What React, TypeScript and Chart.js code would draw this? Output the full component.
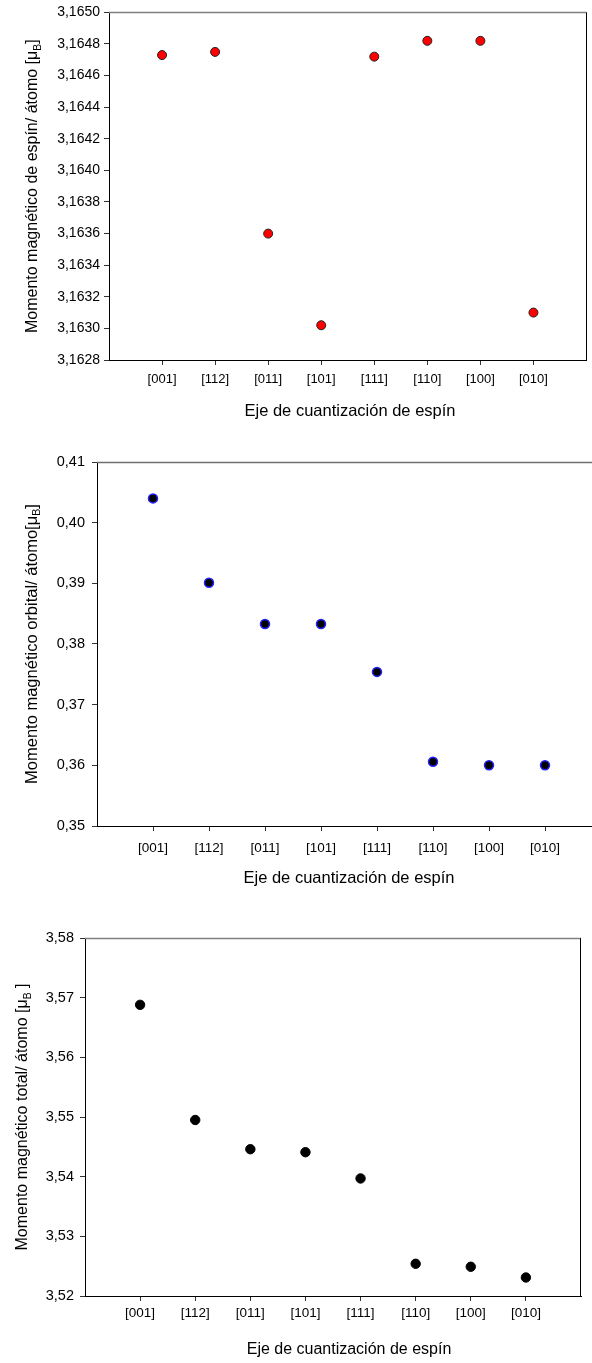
import React, { useEffect, useRef } from "react";
import { Chart, registerables } from "chart.js";

Chart.register(...registerables);

// ---- data ----
const AXES = ["[001]", "[112]", "[011]", "[101]", "[111]", "[110]", "[100]", "[010]"];
const SPIN = [3.16473, 3.16475, 3.1636, 3.16302, 3.16472, 3.16482, 3.16482, 3.1631];
const ORBITAL = [0.404, 0.3901, 0.3833, 0.3833, 0.3754, 0.3606, 0.36, 0.36];
const TOTAL = [3.5688, 3.5495, 3.5446, 3.5441, 3.5397, 3.5254, 3.5249, 3.5231];
const SPIN_TICKS = [3.1628, 3.163, 3.1632, 3.1634, 3.1636, 3.1638, 3.164, 3.1642, 3.1644, 3.1646, 3.1648, 3.165];
const ORBITAL_TICKS = [0.35, 0.36, 0.37, 0.38, 0.39, 0.4, 0.41];
const TOTAL_TICKS = [3.52, 3.53, 3.54, 3.55, 3.56, 3.57, 3.58];
const X_TITLE = "Eje de cuantización de espín";
const SPIN_TITLE = ["Momento magnético de espín/ átomo [μ", "B", "]"];
const ORBITAL_TITLE = ["Momento magnético orbital/ átomo[μ", "B", "]"];
const TOTAL_TITLE = ["Momento magnético total/ átomo [μ", "B", " ]"];

const FONT = '"Liberation Sans", Arial, sans-serif';

const framePlugin = {
  id: "frame",
  afterDraw(chart: any, _args: any, o: any) {
    const { ctx, chartArea: a } = chart;
    ctx.save();
    ctx.strokeStyle = o.topColor;
    ctx.lineWidth = o.topWidth;
    ctx.beginPath();
    ctx.moveTo(a.left, Math.round(a.top) + 0.5);
    ctx.lineTo(a.right, Math.round(a.top) + 0.5);
    ctx.stroke();
    if (o.right) {
      ctx.strokeStyle = "#000";
      ctx.lineWidth = 1;
      ctx.beginPath();
      ctx.moveTo(Math.round(a.right) - 0.5, a.top);
      ctx.lineTo(Math.round(a.right) - 0.5, a.bottom);
      ctx.stroke();
    }
    // x title
    ctx.fillStyle = "#000";
    ctx.font = `${o.xSize}px ${FONT}`;
    ctx.textAlign = "center";
    ctx.textBaseline = "middle";
    ctx.fillText(o.xText, o.xCenter, o.xY);
    // y title with subscript
    const [main, sub, tail] = o.yParts;
    const size = o.ySize;
    const subSize = size * 0.65;
    ctx.font = `${size}px ${FONT}`;
    const w1 = ctx.measureText(main).width;
    const w3 = ctx.measureText(tail).width;
    ctx.font = `${subSize}px ${FONT}`;
    const w2 = ctx.measureText(sub).width;
    const total = w1 + w2 + w3;
    const cy = (a.top + a.bottom) / 2;
    ctx.translate(o.yX, cy);
    ctx.rotate(-Math.PI / 2);
    ctx.textAlign = "left";
    const s = -total / 2;
    ctx.font = `${size}px ${FONT}`;
    ctx.fillText(main, s, 0);
    ctx.font = `${subSize}px ${FONT}`;
    ctx.fillText(sub, s + w1, size * 0.3);
    ctx.font = `${size}px ${FONT}`;
    ctx.fillText(tail, s + w1 + w2, 0);
    ctx.restore();
  },
};

type Spec = {
  width: number;
  height: number;
  left: number;
  top: number;
  right: number;
  bottom: number;
  values: number[];
  yTicks: number[];
  decimals: number;
  yTickSize: number;
  xTickSize: number;
  yPad: number;
  xPad: number;
  point: { r: number; bg: string; border: string; bw: number };
  frame: any;
};

function ScatterPanel({ spec, style }: { spec: Spec; style: React.CSSProperties }) {
  const ref = useRef<HTMLCanvasElement | null>(null);
  useEffect(() => {
    const canvas = ref.current!;
    const yMin = spec.yTicks[0];
    const yMax = spec.yTicks[spec.yTicks.length - 1];
    const chart = new Chart(canvas, {
      type: "scatter",
      data: {
        datasets: [
          {
            data: spec.values.map((v, i) => ({ x: i + 1, y: v })),
            pointRadius: spec.point.r,
            pointBackgroundColor: spec.point.bg,
            pointBorderColor: spec.point.border,
            pointBorderWidth: spec.point.bw,
            showLine: false,
          },
        ],
      },
      options: {
        animation: false,
        responsive: false,
        devicePixelRatio: 1,
        layout: {
          padding: { left: 0, top: spec.top, right: spec.width - spec.right, bottom: 0 },
        },
        plugins: { legend: { display: false }, tooltip: { enabled: false }, frame: spec.frame } as any,
        scales: {
          x: {
            type: "linear",
            min: 0,
            max: AXES.length + 1,
            afterBuildTicks: (s: any) => {
              s.ticks = AXES.map((_, i) => ({ value: i + 1 }));
            },
            afterFit: (s: any) => {
              s.height = spec.height - spec.bottom;
            },
            ticks: {
              autoSkip: false,
              maxRotation: 0,
              color: "#000",
              padding: spec.xPad,
              font: { family: FONT, size: spec.xTickSize },
              callback: (v: any) => AXES[Math.round(Number(v)) - 1] ?? "",
            },
            grid: { drawOnChartArea: false, drawTicks: true, tickLength: 5, color: "#333" },
            border: { display: true, color: "#000", width: 1 },
          },
          y: {
            type: "linear",
            min: yMin,
            max: yMax,
            afterBuildTicks: (s: any) => {
              s.ticks = spec.yTicks.map((v) => ({ value: v }));
            },
            afterFit: (s: any) => {
              s.width = spec.left;
            },
            ticks: {
              color: "#000",
              padding: spec.yPad,
              font: { family: FONT, size: spec.yTickSize },
              callback: (v: any) => Number(v).toFixed(spec.decimals).replace(".", ","),
            },
            grid: { drawOnChartArea: false, drawTicks: true, tickLength: 5, color: "#333" },
            border: { display: true, color: "#000", width: 1 },
          },
        },
      },
      plugins: [framePlugin],
    } as any);
    return () => chart.destroy();
  }, [spec]);
  return (
    <canvas
      ref={ref}
      width={spec.width}
      height={spec.height}
      style={{ position: "absolute", width: spec.width, height: spec.height, ...style }}
    />
  );
}

const SPEC1: Spec = {
  width: 592,
  height: 430,
  left: 109,
  top: 12,
  right: 590,
  bottom: 360,
  values: SPIN,
  yTicks: SPIN_TICKS,
  decimals: 4,
  yTickSize: 14,
  xTickSize: 13,
  yPad: 4,
  xPad: 7,
  point: { r: 4.5, bg: "#ff0000", border: "#222", bw: 1 },
  frame: {
    topColor: "#808080",
    topWidth: 1.5,
    right: true,
    xText: X_TITLE,
    xSize: 16.5,
    xCenter: 350,
    xY: 411,
    yParts: SPIN_TITLE,
    ySize: 16,
    yX: 33,
  },
};

const SPEC2: Spec = {
  width: 610,
  height: 460,
  left: 97,
  top: 22,
  right: 601,
  bottom: 386,
  values: ORBITAL,
  yTicks: ORBITAL_TICKS,
  decimals: 2,
  yTickSize: 14.5,
  xTickSize: 13.5,
  yPad: 7,
  xPad: 9,
  point: { r: 4.5, bg: "#000000", border: "#2222ff", bw: 1.5 },
  frame: {
    topColor: "#707070",
    topWidth: 1.5,
    right: false,
    xText: X_TITLE,
    xSize: 16.5,
    xCenter: 349,
    xY: 438,
    yParts: ORBITAL_TITLE,
    ySize: 16.5,
    yX: 32,
  },
};

const SPEC3: Spec = {
  width: 592,
  height: 443,
  left: 85,
  top: 18,
  right: 581,
  bottom: 376,
  values: TOTAL,
  yTicks: TOTAL_TICKS,
  decimals: 2,
  yTickSize: 14.5,
  xTickSize: 13.5,
  yPad: 6,
  xPad: 4,
  point: { r: 4.7, bg: "#000000", border: "#000000", bw: 1 },
  frame: {
    topColor: "#808080",
    topWidth: 1.5,
    right: true,
    xText: X_TITLE,
    xSize: 16,
    xCenter: 349,
    xY: 430,
    yParts: TOTAL_TITLE,
    ySize: 16,
    yX: 23,
  },
};

export default function App() {
  return (
    <div
      style={{
        position: "absolute",
        left: 0,
        top: 0,
        width: 592,
        height: 1363,
        overflow: "hidden",
        background: "#fff",
      }}
    >
      <ScatterPanel spec={SPEC1} style={{ left: 0, top: 0 }} />
      <ScatterPanel spec={SPEC2} style={{ left: 0, top: 440 }} />
      <ScatterPanel spec={SPEC3} style={{ left: 0, top: 920 }} />
    </div>
  );
}
